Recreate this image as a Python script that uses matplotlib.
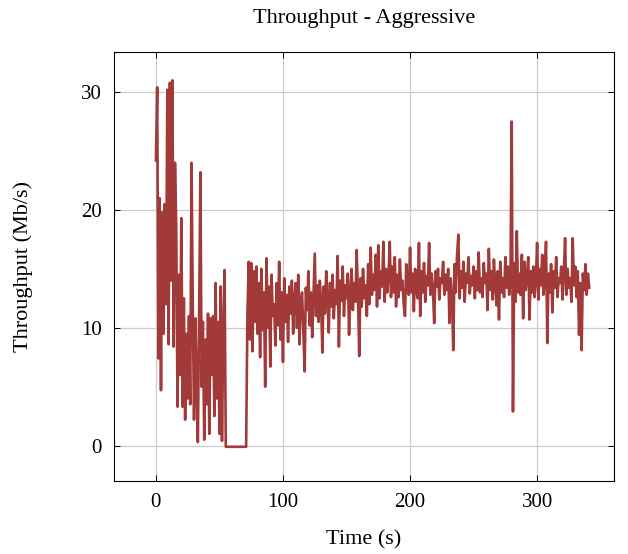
import matplotlib
matplotlib.use("Agg")
import matplotlib.pyplot as plt
import numpy as np

# throughput samples, one per second (Mb/s)
throughput = [
    24.2, 30.4, 7.4, 21.0, 4.7, 19.8, 9.5, 20.5, 12.0, 30.2,
    8.6, 30.8, 14.0, 31.0, 8.4, 24.0, 18.5, 3.3, 14.5, 6.0,
    19.3, 3.3, 12.5, 2.2, 9.5, 4.0, 11.0, 3.5, 24.0, 12.0,
    2.2, 10.8, 6.0, 0.3, 11.0, 23.2, 5.0, 10.5, 0.5, 9.0,
    3.5, 11.2, 1.0, 10.8, 6.0, 11.0, 2.5, 13.8, 4.0, 10.5,
    1.0, 13.5, 0.4, 9.5, 14.9, -0.1, -0.1, -0.1, -0.1, -0.1,
    -0.1, -0.1, -0.1, -0.1, -0.1, -0.1, -0.1, -0.1, -0.1, -0.1,
    -0.1, -0.1, 11.0, 15.6, 9.0, 15.5, 8.0, 14.8, 10.5, 15.2,
    9.5, 13.8, 7.5, 15.0, 9.8, 13.0, 5.0, 15.9, 10.0, 13.5,
    6.7, 14.5, 11.0, 12.0, 8.5, 13.8, 10.2, 15.6, 9.0, 13.0,
    7.1, 14.2, 10.5, 12.8, 8.8, 13.5, 11.2, 14.0, 9.5, 12.5,
    13.8, 10.0, 14.5, 8.6, 12.2, 13.0, 9.8, 6.3, 13.4, 11.5,
    14.8, 10.2, 13.0, 9.2, 12.8, 16.3, 11.0, 13.6, 10.5, 14.0,
    12.0, 7.9, 13.5, 11.2, 14.8, 12.5, 9.6, 13.8, 11.8, 14.5,
    10.8, 13.2, 12.0, 16.1, 8.4, 14.0, 12.3, 15.2, 11.0, 13.6,
    12.5, 14.6, 9.4, 13.0, 15.0, 11.5, 13.8, 12.2, 16.6, 12.8,
    7.6, 14.2, 11.8, 15.0, 12.5, 13.6, 11.0, 15.4, 12.0, 16.8,
    12.8, 14.5, 13.2, 16.2, 11.8, 17.0, 12.5, 14.8, 13.5, 17.3,
    12.2, 15.0, 13.0, 14.2, 17.3, 12.6, 15.2, 13.0, 16.0, 11.8,
    14.5, 12.6, 15.8, 13.2, 14.0, 12.0, 11.0, 15.4, 13.5, 12.8,
    16.8, 13.0, 14.6, 11.4, 15.0, 13.2, 12.5, 17.2, 11.0, 14.8,
    13.0, 15.5, 12.2, 14.4, 13.6, 17.2, 12.8, 14.6, 13.2, 10.4,
    14.8, 13.5, 15.0, 12.4, 14.2, 13.8, 15.6, 12.8, 14.5, 13.2,
    15.0, 10.4, 14.2, 12.6, 8.1, 15.4, 13.0, 16.2, 17.9, 12.5,
    14.8, 13.4, 15.6, 12.2, 14.6, 13.8, 16.0, 12.9, 14.4, 13.6,
    15.2, 12.5, 14.8, 13.2, 16.4, 13.0, 14.2, 12.6, 15.5, 13.8,
    14.6, 11.5, 16.7, 13.2, 14.8, 12.4, 15.8, 13.6, 11.9, 14.8,
    10.7, 15.6, 13.0, 14.2, 12.6, 16.0, 13.4, 15.2, 12.8, 14.0,
    27.5, 2.9, 15.5, 12.2, 18.2, 13.0, 14.6, 12.8, 16.2, 10.8,
    15.6, 13.2, 14.4, 16.0, 10.7, 14.8, 13.0, 15.2, 12.6, 14.0,
    17.2, 12.4, 15.0, 13.6, 16.2, 12.8, 14.4, 17.3, 8.7, 14.6,
    13.0, 15.4, 11.3, 14.8, 13.4, 16.0, 12.6, 14.2, 13.8, 15.2,
    12.4, 14.6, 17.6, 12.8, 15.0, 13.4, 14.2, 12.2, 17.6, 13.6,
    15.2, 12.6, 14.8, 9.4, 13.8, 8.1, 14.6, 13.2, 15.4, 12.8,
    14.6, 13.4,
]
time_s = np.arange(len(throughput))

x_ticks = [0, 100, 200, 300]
y_ticks = [0, 10, 20, 30]

plt.rcParams['font.family'] = ['Liberation Serif', 'DejaVu Serif']

fig = plt.figure(figsize=(6.28, 5.54), dpi=100)
ax = fig.add_axes([0.1815, 0.1318, 0.7962, 0.7743])

ax.plot(time_s, throughput, color='#a33a3a', linewidth=1.9)

ax.set_xlim(-33, 360.5)
ax.set_ylim(-3, 33.4)
ax.set_xticks(x_ticks)
ax.set_yticks(y_ticks)
ax.grid(True, color='#cccccc', linewidth=0.9)
ax.set_axisbelow(True)
ax.tick_params(direction='in', length=4, labelsize=15, pad=9,
               top=True, right=True, width=0.7)
for s in ax.spines.values():
    s.set_linewidth(0.8)

ax.set_title("Throughput - Aggressive", fontsize=16, pad=21)
ax.set_xlabel("Time (s)", fontsize=16, labelpad=13)
ax.set_ylabel("Throughput (Mb/s)", fontsize=16, labelpad=34)

fig.savefig("out.png", dpi=100)
